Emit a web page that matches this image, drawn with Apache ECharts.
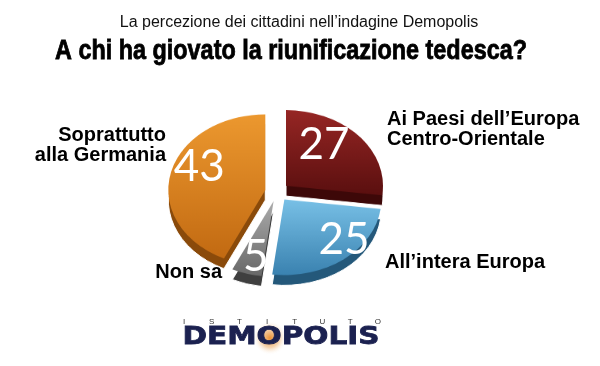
<!DOCTYPE html>
<html><head><meta charset="utf-8">
<script src="https://cdn.jsdelivr.net/npm/echarts@6/dist/echarts.min.js"></script>
<style>
html,body{margin:0;padding:0;background:#fff}
#wrap{position:relative;width:600px;height:366px;overflow:hidden}
#pie,#c{position:absolute;left:0;top:0;width:600px;height:366px}
#pie{transform:scaleY(0.78);transform-origin:0 192px}
</style>
</head><body><div id="wrap"><div id="pie"></div><div id="c"></div></div>
<script>
const categories = ["Ai Paesi dell’Europa\nCentro-Orientale", "All’intera Europa", "Non sa", "Soprattutto\nalla Germania"];
const values = [27, 25, 5, 43];
const subtitleText = "La percezione dei cittadini nell’indagine Demopolis";
const titleText = "A chi ha giovato la riunificazione tedesca?";
const logoTop = "ISTITUTO";
const logoMain = "DEMOPOLIS";

const topColors = [
  ['#962624', '#5a0f0f'],
  ['#78c0e6', '#3a82b0'],
  ['#ababab', '#686868'],
  ['#ec982f', '#c26a12']
];
const sideColors = ['#3d0808', '#24587a', '#3f3f3f', '#8a4a0a'];
const nameLabelPos = [
  {x: 387, y: 129, align: 'left'},
  {x: 385, y: 262, align: 'left'},
  {x: 222, y: 272, align: 'right'},
  {x: 166, y: 145, align: 'right'}
];
const numberShift = [[-2, -13], [27, 8], [-3, 16], [-14, -14]];

const SCALE_Y = 0.78;
const CX = 277, CY = 192, R = 97, OFFSET = 12, DEPTH = 13;

function grad(c) {
  return new echarts.graphic.LinearGradient(0, 0, 0, 1, [
    {offset: 0, color: c[0]}, {offset: 1, color: c[1]}
  ]);
}
function measure(text, font) {
  const cv = document.createElement('canvas').getContext('2d');
  cv.font = font;
  return cv.measureText(text).width;
}

// Pie (drawn by ECharts, viewed in perspective via vertical squash of its container)
const pie = echarts.init(document.getElementById('pie'), null, {renderer: 'canvas'});
const common = {
  type: 'pie', radius: [0, R], startAngle: 90, selectedMode: 'multiple',
  selectedOffset: OFFSET, animation: false, silent: true,
  label: {show: false}, labelLine: {show: false}
};
pie.setOption({
  series: [
    Object.assign({}, common, {
      center: [CX, CY + DEPTH], z: 1,
      itemStyle: {borderColor: '#fff', borderWidth: 1},
      data: values.map((v, i) => ({value: v, name: categories[i], selected: true,
        itemStyle: {color: sideColors[i]}}))
    }),
    Object.assign({}, common, {
      center: [CX, CY], z: 2,
      data: values.map((v, i) => ({value: v, name: categories[i], selected: true,
        itemStyle: {color: grad(topColors[i])}}))
    })
  ]
});

// Texts overlay
const total = values.reduce((a, b) => a + b, 0);
const graphics = [];
const titleFont = 'bold 27px "Liberation Sans"';
const titleScale = 472 / measure(titleText, titleFont);
graphics.push({type: 'text', x: 291, y: 52, scaleX: titleScale, style: {
  text: titleText, font: titleFont, fill: '#000', stroke: '#000', lineWidth: 0.8,
  textAlign: 'center', textVerticalAlign: 'middle'}});

let acc = 0;
values.forEach((v, i) => {
  const mid = (90 - (acc + v / 2) / total * 360) * Math.PI / 180;
  acc += v;
  const r = R * 0.55 + OFFSET;
  const x = CX + r * Math.cos(mid) + numberShift[i][0];
  const y = CY - r * Math.sin(mid) * SCALE_Y + numberShift[i][1];
  graphics.push({type: 'text', x: x, y: y, z: 6, style: {
    text: String(v), font: '44px "Lato"', fill: '#fff',
    shadowColor: 'rgba(0,0,0,0.85)', shadowBlur: 3, shadowOffsetX: 1, shadowOffsetY: 1,
    textAlign: 'center', textVerticalAlign: 'middle'}});
});

categories.forEach((c, i) => {
  const q = nameLabelPos[i];
  graphics.push({type: 'text', x: q.x, y: q.y, z: 5, style: {
    text: c, font: 'bold 20px "Liberation Sans"', fill: '#000', lineHeight: 20,
    textAlign: q.align, textVerticalAlign: 'middle'}});
});

graphics.push({type: 'circle', shape: {cx: 270, cy: 338, r: 17}, z: 0,
  style: {fill: new echarts.graphic.RadialGradient(0.5, 0.5, 0.5, [
    {offset: 0, color: 'rgba(235,140,40,0.95)'}, {offset: 0.55, color: 'rgba(235,165,90,0.5)'},
    {offset: 1, color: 'rgba(255,255,255,0)'}])}});
logoTop.split('').forEach((ch, i) => {
  graphics.push({type: 'text', x: 184 + i * 27.7, y: 322, z: 2, style: {
    text: ch, fill: '#333', font: '8px "Liberation Sans"', textAlign: 'center', textVerticalAlign: 'middle'}});
});
const logoFont = 'bold 25px "DejaVu Sans"';
const logoScale = 197 / measure(logoMain, logoFont);
graphics.push({type: 'text', x: 281, y: 337, z: 2, scaleX: logoScale, style: {text: logoMain, fill: '#1b2150',
  stroke: '#1b2150', lineWidth: 0.8, font: logoFont, textAlign: 'center', textVerticalAlign: 'middle'}});

const chart = echarts.init(document.getElementById('c'), null, {renderer: 'canvas'});
chart.setOption({
  backgroundColor: 'transparent',
  title: [
    {text: subtitleText, left: 294, top: 10, textAlign: 'center',
     textStyle: {fontFamily: 'Liberation Sans', fontWeight: 'normal', fontSize: 16, color: '#111'}}
  ],
  graphic: graphics
});
</script>
</body></html>
